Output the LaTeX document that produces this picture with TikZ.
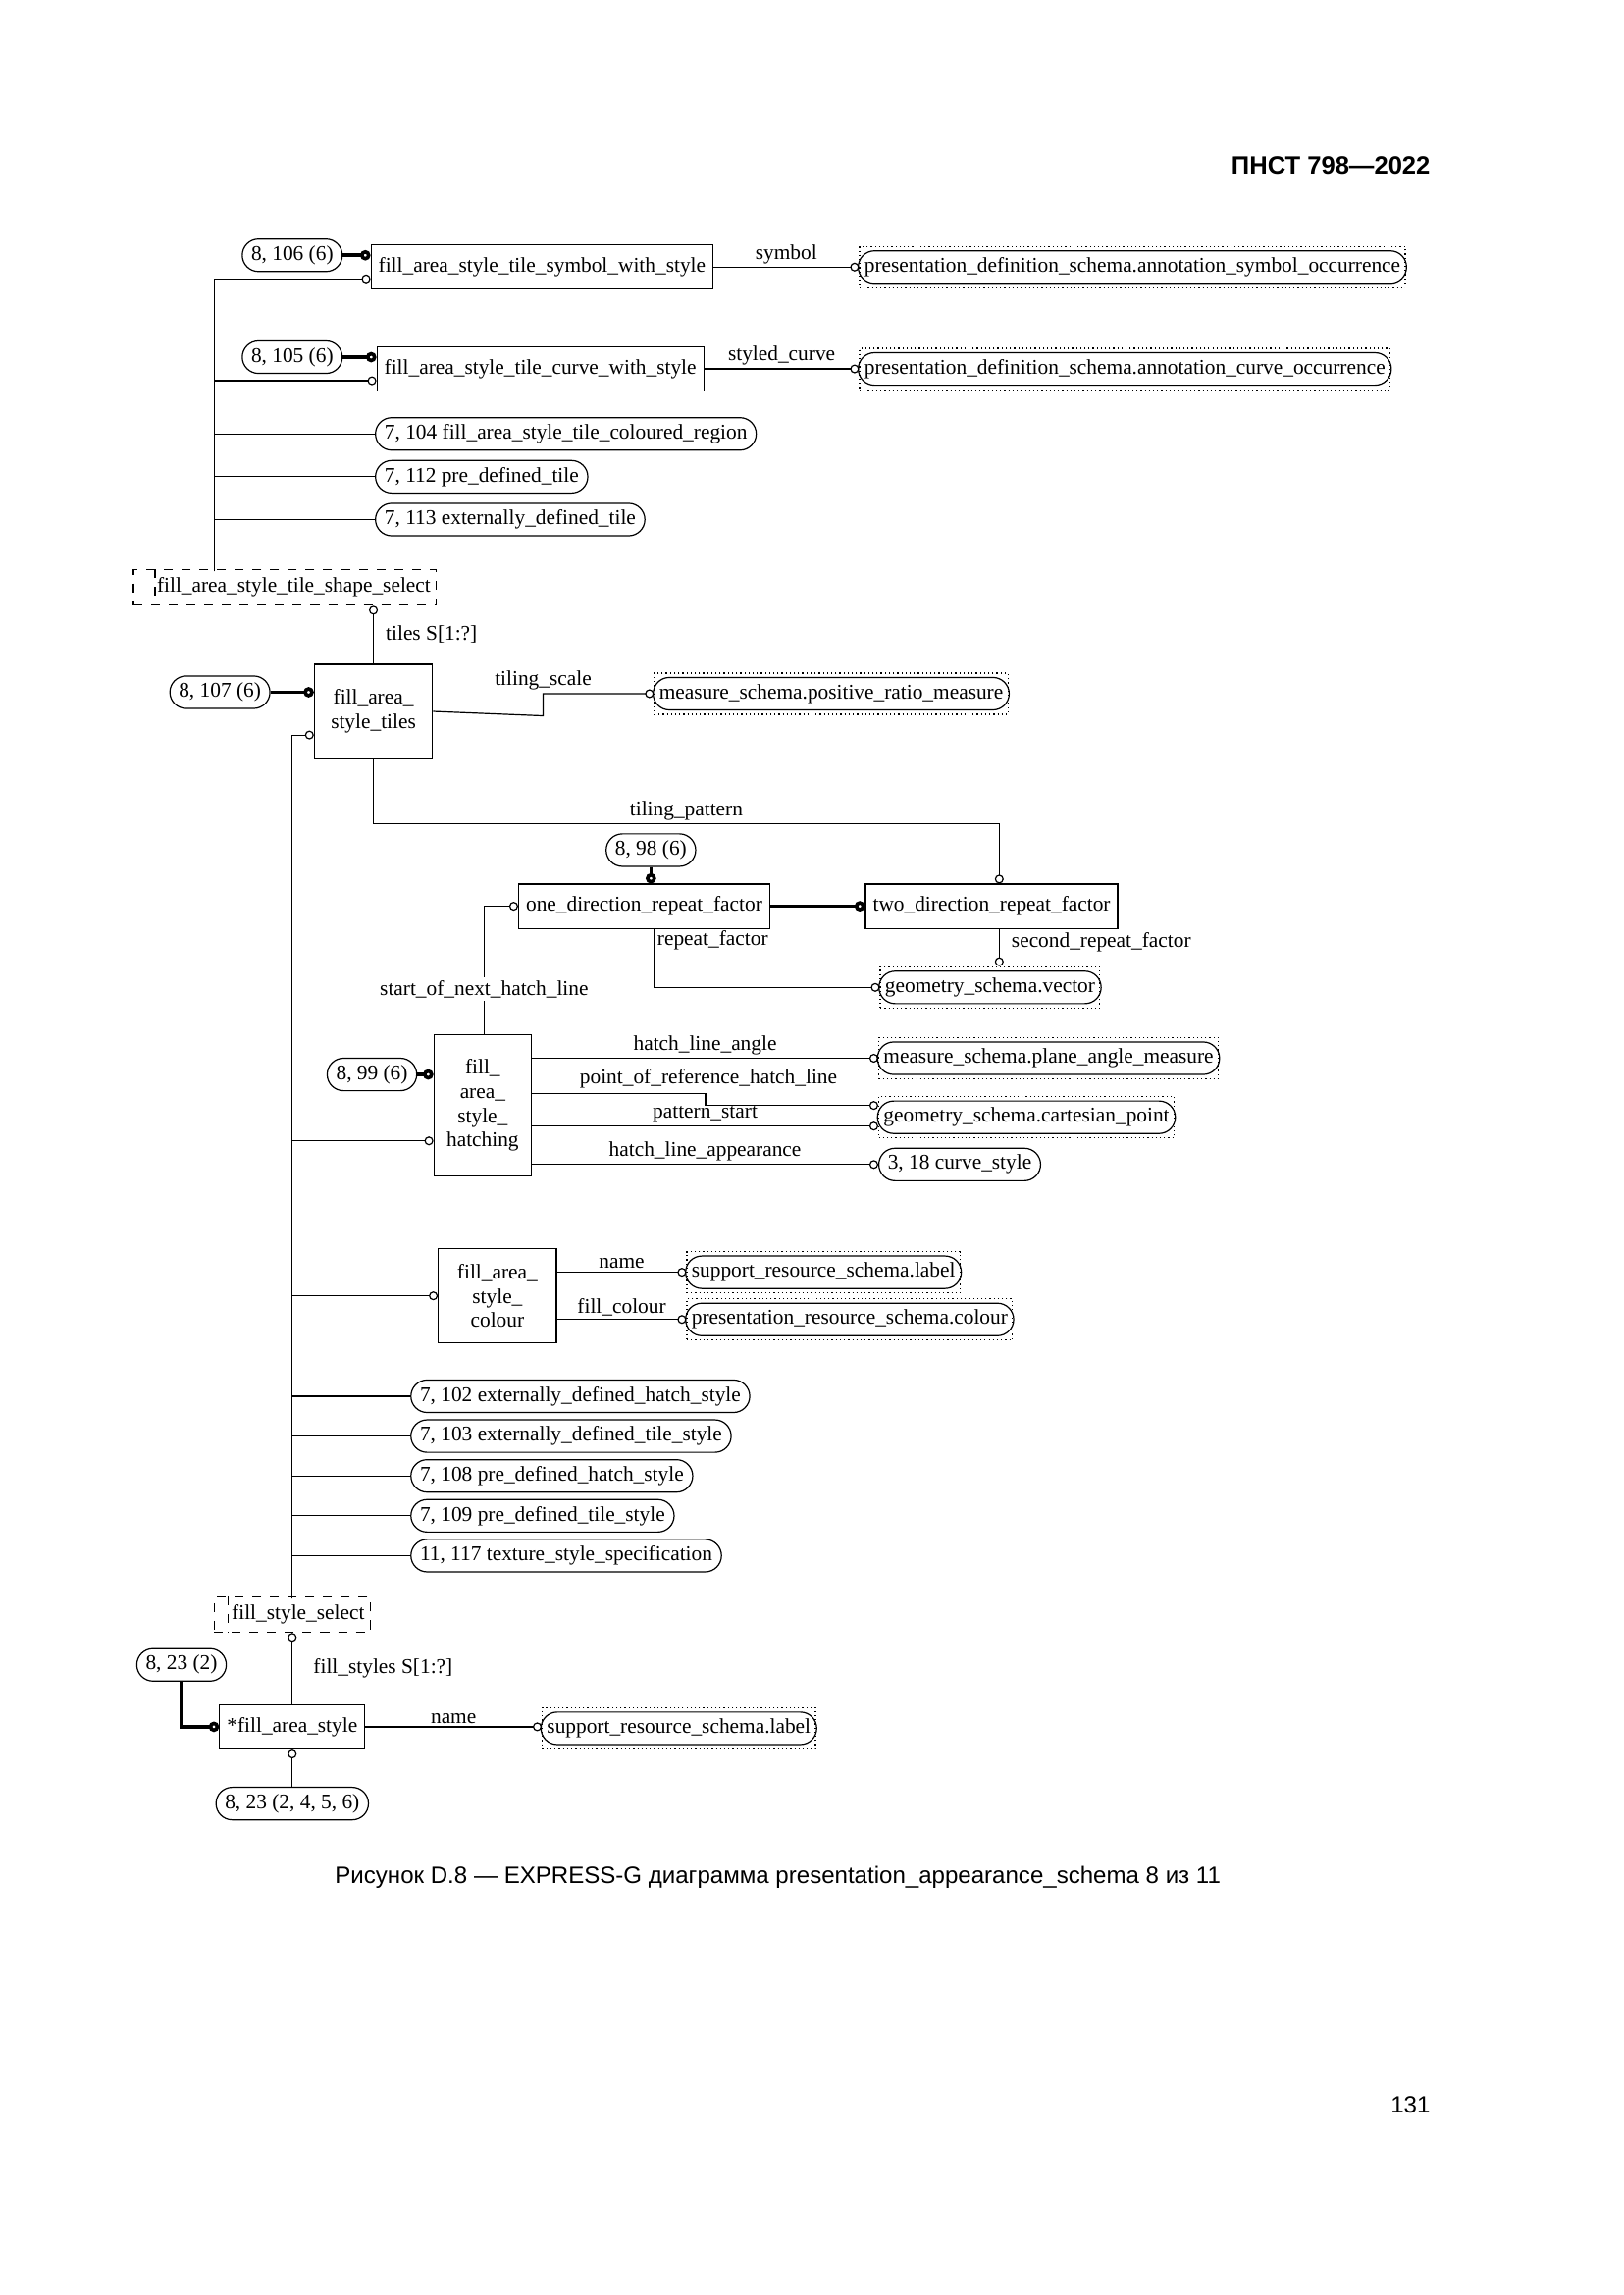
\documentclass[tikz,border=0pt]{standalone}
\usepackage{fontspec}
\setmainfont{Liberation Serif}
\newfontfamily\hdfont{Liberation Sans}
\usetikzlibrary{arrows.meta,shapes.misc}

\tikzset{
  ent/.style={draw, rectangle, inner sep=2.5pt, minimum height=15pt, align=center},
  pg/.style={draw, rounded rectangle, inner sep=2pt, minimum height=11pt},
  ext/.style={draw, densely dotted, rectangle, inner sep=1.6pt, minimum height=14pt},
  sel/.style={draw, dashed, rectangle, inner sep=2pt, minimum height=12pt},
  att/.style={-{Circle[open,length=3pt,width=3pt]}},
  sub/.style={very thick, -{Circle[open,length=3.5pt,width=3.5pt]}},
  lbl/.style={inner sep=1pt},
}
% external reference: dotted frame round a rounded box
\newcommand{\extref}[4]{%
  \node[ext, anchor=west] (#1) at (#2,#3) {\phantom{#4}};
  \node[draw, rounded rectangle, inner sep=1pt, minimum height=11pt] at (#1.center) {#4};}

\begin{document}
\begin{tikzpicture}[x=0.5pt, y=-0.5pt, font=\fontsize{7.1}{8.2}\selectfont]
  \useasboundingbox (0,0) rectangle (1100,1555);
  \node[anchor=east, font=\hdfont\bfseries\fontsize{8.5}{10}\selectfont] (hdr) at (976,112) {ПНСТ 798—2022};

  % tile shapes
  \node[pg] (p106) at (198,173) {8, 106 (6)};
  \node[ent, anchor=west] (symst) at (251,181) {fill\_area\_style\_tile\_symbol\_with\_style};
  \extref{symocc}{582}{181}{presentation\_definition\_schema.annotation\_symbol\_occurrence}
  \node[pg] (p105) at (198,242) {8, 105 (6)};
  \node[ent, anchor=west] (curst) at (255,250) {fill\_area\_style\_tile\_curve\_with\_style};
  \extref{curocc}{582}{250}{presentation\_definition\_schema.annotation\_curve\_occurrence}
  \node[pg, anchor=west] (p104) at (254,294) {7, 104 fill\_area\_style\_tile\_coloured\_region};
  \node[pg, anchor=west] (p112) at (254,323) {7, 112 pre\_defined\_tile};
  \node[pg, anchor=west] (p113) at (254,352) {7, 113 externally\_defined\_tile};
  \node[sel, anchor=west] (tilesel) at (90,398) {\hspace{6pt}fill\_area\_style\_tile\_shape\_select};
  \draw[dashed] ([xshift=7.5pt]tilesel.north west) -- ([xshift=7.5pt]tilesel.south west);
  \coordinate (ta) at (145,387);

  \draw[sub] (p106.east) -- (p106.east -| symst.west);
  \draw[att] (ta) |- ([yshift=-4pt]symst.west);
  \draw[att] (symst.east) -- node[lbl, above] {symbol} (symocc.west);
  \draw[sub] (p105.east) -- (p105.east -| curst.west);
  \draw[att] (ta) |- ([yshift=-4pt]curst.west);
  \draw[att] (curst.east) -- node[lbl, above] {styled\_curve} (curocc.west);
  \draw (ta) |- (p104.west);
  \draw (ta) |- (p112.west);
  \draw (ta) |- (p113.west);

  % tiles
  \node[ent, minimum width=40pt, minimum height=32pt] (tiles) at (253,482) {fill\_area\_\\style\_tiles};
  \node[pg] (p107) at (149,469) {8, 107 (6)};
  \draw[att] (tiles.north) -- node[lbl, right=3pt] {tiles S[1:?]} (tilesel.south -| tiles.north);
  \draw[sub] (p107.east) -- (p107.east -| tiles.west);
  \extref{posratio}{443}{470}{measure\_schema.positive\_ratio\_measure}
  \draw[att] (tiles.east) -- (368,485) |- node[lbl, above, pos=0.5] {tiling\_scale} (posratio.west);

  % repeat factors
  \node[pg] (p98) at (441,576) {8, 98 (6)};
  \node[ent, anchor=west] (onedir) at (351,614) {one\_direction\_repeat\_factor};
  \node[ent, anchor=west] (twodir) at (586,614) {two\_direction\_repeat\_factor};
  \extref{vec}{596}{669}{geometry\_schema.vector};
  \draw[att] (tiles.south) |- node[lbl, above, pos=0.75] {tiling\_pattern} (677,558) -- (twodir.north -| 677,0);
  \draw[sub] (p98.south) -- (onedir.north -| p98.south);
  \draw[sub] (onedir.east) -- (twodir.west);
  \draw[att] (onedir.south -| 443,0) |- (vec.west) node[lbl, anchor=west, pos=0.1] {repeat\_factor};
  \draw[att] (twodir.south -| 677,0) -- node[lbl, right=3pt, pos=0.35] {second\_repeat\_factor} (vec.north -| 677,0);

  % hatching
  \node[ent, minimum width=33pt, minimum height=48pt] (hatch) at (327,749) {fill\_\\area\_\\style\_\\hatching};
  \node[pg] (p99) at (252,728) {8, 99 (6)};
  \draw[sub] (p99.east) -- (p99.east -| hatch.west);
  \draw[att] (hatch.north -| 328,0) -- node[lbl, fill=white, pos=0.35] {start\_of\_next\_hatch\_line} (328,614) -- (onedir.west);
  \extref{planeang}{595}{717}{measure\_schema.plane\_angle\_measure}
  \extref{cartpt}{595}{757}{geometry\_schema.cartesian\_point}
  \node[pg, anchor=west] (p318) at (595,789) {3, 18 curve\_style};
  \node[lbl] (porlbl) at (480,731) {point\_of\_reference\_hatch\_line};
  \draw[att] (hatch.east |- planeang.west) -- node[lbl, above] {hatch\_line\_angle} (planeang.west);
  \draw[att] (hatch.east |- 0,741) -- (478,741) |- (cartpt.west |- 0,749);
  \draw[att] (hatch.east |- 0,763) -- node[lbl, above] {pattern\_start} (cartpt.west |- 0,763);
  \draw[att] (hatch.east |- p318.west) -- node[lbl, above] {hatch\_line\_appearance} (p318.west);

  % colour
  \node[ent, minimum width=40pt, minimum height=32pt] (colour) at (337,878) {fill\_area\_\\style\_\\colour};
  \extref{srlabel}{465}{862}{support\_resource\_schema.label}
  \extref{prcolour}{465}{894}{presentation\_resource\_schema.colour}
  \draw[att] (colour.east |- srlabel.west) -- node[lbl, above] {name} (srlabel.west);
  \draw[att] (colour.east |- prcolour.west) -- node[lbl, above] {fill\_colour} (prcolour.west);

  % other fill styles
  \node[pg, anchor=west] (p102) at (278,946) {7, 102 externally\_defined\_hatch\_style};
  \node[pg, anchor=west] (p103) at (278,973) {7, 103 externally\_defined\_tile\_style};
  \node[pg, anchor=west] (p108) at (278,1000) {7, 108 pre\_defined\_hatch\_style};
  \node[pg, anchor=west] (p109) at (278,1027) {7, 109 pre\_defined\_tile\_style};
  \node[pg, anchor=west] (p117) at (278,1054) {11, 117 texture\_style\_specification};
  \node[sel] (fillsel) at (198,1094) {\hspace{4pt}fill\_style\_select};
  \draw[dashed] ([xshift=5pt]fillsel.north west) -- ([xshift=5pt]fillsel.south west);
  \coordinate (tb) at (198,1083);
  \draw[att] (tb) |- ([yshift=-8pt]tiles.west);
  \draw[att] (tb) |- ([yshift=-12pt]hatch.west);
  \draw[att] (tb) |- (colour.west);
  \foreach \p in {p102,p103,p108,p109,p117} \draw (tb) |- (\p.west);

  % fill_area_style
  \node[ent] (fas) at (198,1170) {*fill\_area\_style};
  \node[pg] (p23) at (123,1128) {8, 23 (2)};
  \node[pg] (p23b) at (198,1222) {8, 23 (2, 4, 5, 6)};
  \extref{fasname}{367}{1171}{support\_resource\_schema.label}
  \draw[att] (fas.north) -- node[lbl, right=6pt] {fill\_styles S[1:?]} (fillsel.south -| fas.north);
  \draw[sub] (p23.south) |- (fas.west);
  \draw[att] (fas.east) -- node[lbl, above] {name} (fas.east -| fasname.west);
  \draw[att] (p23b.north) -- (fas.south);

  \node[font=\hdfont\fontsize{8}{10}\selectfont] (cap) at (527,1272) {Рисунок D.8 — EXPRESS-G диаграмма presentation\_appearance\_schema 8 из 11};
  \node[anchor=east, font=\hdfont\fontsize{8}{10}\selectfont] (pnum) at (976,1426) {131};
\end{tikzpicture}
\end{document}
